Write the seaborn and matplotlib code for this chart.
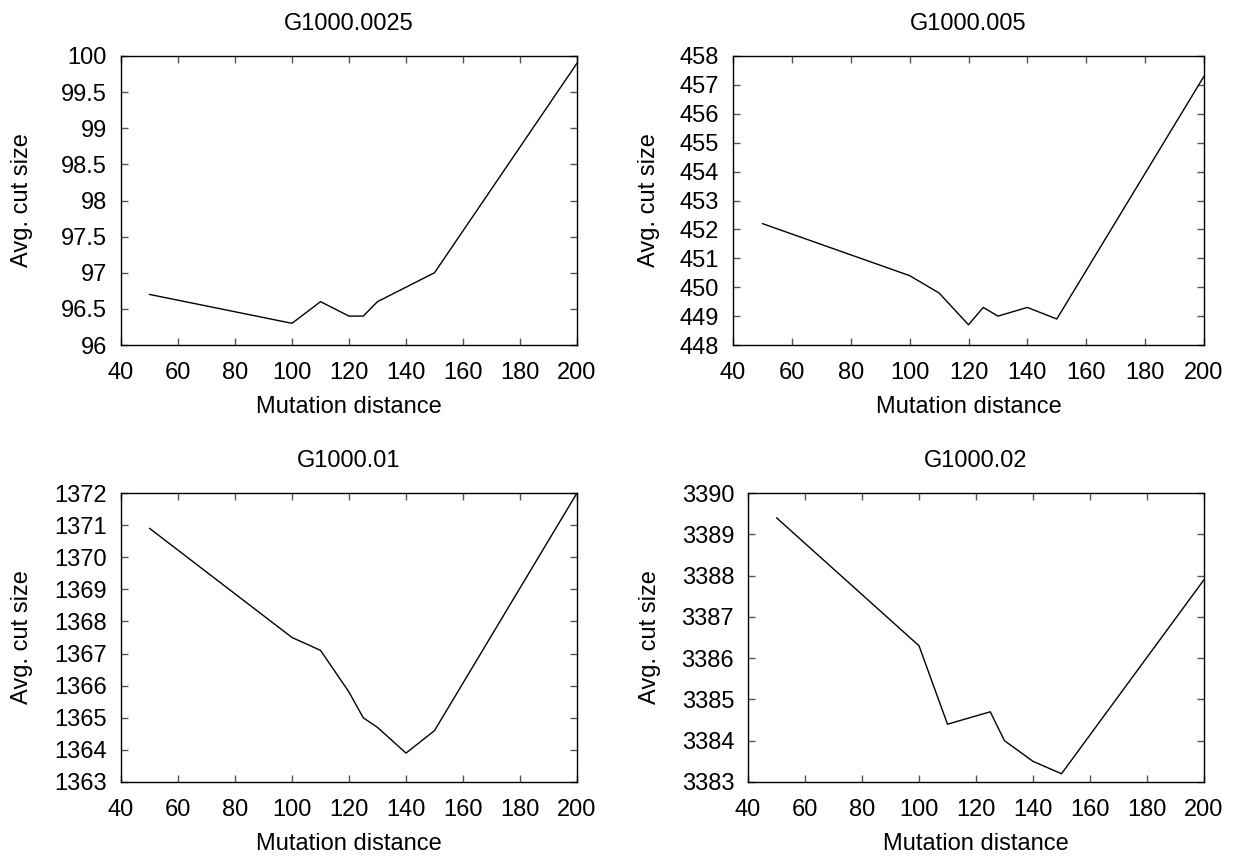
import matplotlib
matplotlib.use("Agg")
import matplotlib.pyplot as plt
import matplotlib.ticker as mticker
import matplotlib.transforms as mtransforms
import numpy as np
import pandas as pd
import seaborn as sns

# Data
distance = [50, 100, 110, 120, 125, 130, 140, 150, 200]
g_0025 = [96.7, 96.3, 96.6, 96.4, 96.4, 96.6, 96.8, 97.0, 99.9]
g_005 = [452.2, 450.4, 449.8, 448.7, 449.3, 449.0, 449.3, 448.9, 457.3]
g_01 = [1370.9, 1367.5, 1367.1, 1365.8, 1365.0, 1364.7, 1363.9, 1364.6, 1372.0]
g_02 = [3389.4, 3386.3, 3384.4, 3384.6, 3384.7, 3384.0, 3383.5, 3383.2, 3387.9]

titles = ["G1000.0025", "G1000.005", "G1000.01", "G1000.02"]
series = [g_0025, g_005, g_01, g_02]
ylims = [(96, 100), (448, 458), (1363, 1372), (3383, 3390)]
ysteps = [0.5, 1, 1, 1]

FS = 17.0
sns.set_style("ticks")
plt.rcParams['font.family'] = ['Liberation Sans', 'DejaVu Sans']
plt.rcParams['font.size'] = FS
plt.rcParams['text.color'] = 'black'
plt.rcParams['axes.labelcolor'] = 'black'
plt.rcParams['xtick.labelcolor'] = 'black'
plt.rcParams['ytick.labelcolor'] = 'black'

fig = plt.figure(figsize=(12.33, 8.56), dpi=100)
W, H = 1233, 856
boxes = [(121, 56, 577, 345), (733, 56, 1204, 345),
         (121, 493, 577, 782), (748, 493, 1204, 782)]
ylabel_x = [33, 660, 33, 661]

for (x0, y0, x1, y1), t, vals, yl, ys, lx in zip(boxes, titles, series, ylims, ysteps, ylabel_x):
    ax = fig.add_axes([x0 / W, 1 - y1 / H, (x1 - x0) / W, (y1 - y0) / H])
    df = pd.DataFrame({"Mutation distance": distance, "Avg. cut size": vals})
    sns.lineplot(data=df, x="Mutation distance", y="Avg. cut size", ax=ax,
                 color="black", linewidth=1.0)
    ax.set_xlim(40, 200)
    ax.set_ylim(*yl)
    ax.set_xticks(np.arange(40, 201, 20))
    ax.set_yticks(np.arange(yl[0], yl[1] + ys / 2, ys))
    ax.yaxis.set_major_formatter(mticker.FormatStrFormatter('%g'))
    ax.tick_params(direction="in", top=True, right=True, length=5, width=1,
                   color="#555555", labelsize=FS, labelcolor="black")
    ax.tick_params(axis="x", pad=12)
    ax.tick_params(axis="y", pad=10)
    for s in ax.spines.values():
        s.set_visible(True)
        s.set_linewidth(1.0)
        s.set_color("black")
    ax.set_title(t, fontsize=FS, pad=19, color="black")
    ax.set_xlabel("Mutation distance", fontsize=FS, labelpad=9, color="black")
    ax.set_ylabel("Avg. cut size", fontsize=FS, color="black")
    tr = mtransforms.blended_transform_factory(fig.transFigure, ax.transAxes)
    ax.yaxis.set_label_coords(lx / W, 0.5, transform=tr)

fig.savefig("out.png", dpi=100)
